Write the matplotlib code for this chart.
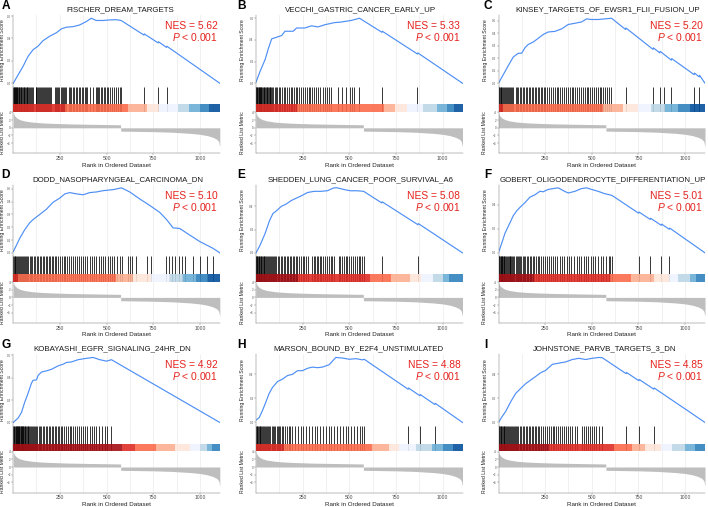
import matplotlib
matplotlib.use("Agg")
import matplotlib.pyplot as plt
from matplotlib.ticker import MultipleLocator, FixedLocator

plt.rcParams['font.family'] = ['Liberation Sans', 'DejaVu Sans']
plt.rcParams['mathtext.fontset'] = 'custom'
plt.rcParams['mathtext.rm'] = 'Liberation Sans'
plt.rcParams['mathtext.it'] = 'Liberation Sans:italic'

# ---------------- data ----------------
N_GENES = 1106

metric_rank = [1, 5, 10, 20, 35, 60, 100, 150, 200, 300, 400, 500, 575, 576, 650, 750, 850, 950,
               1000, 1040, 1070, 1090, 1100, 1106]
metric_value = [3.95, 3.4, 3.0, 2.55, 2.15, 1.8, 1.5, 1.3, 1.18, 1.02, 0.93, 0.85, 0.79, -0.87, -0.92,
                -1.0, -1.15, -1.45, -1.7, -2.05, -2.5, -3.0, -3.6, -5.0]

palette = ['#A50F15', '#DE2D26', '#FB6A4A', '#FCAE91', '#FEE5D9',
           '#EFF3FF', '#BDD7E7', '#6BAED6', '#3182BD', '#08519C']

letters = ['A', 'B', 'C', 'D', 'E', 'F', 'G', 'H', 'I']
titles = ['FISCHER_DREAM_TARGETS', 'VECCHI_GASTRIC_CANCER_EARLY_UP',
          'KINSEY_TARGETS_OF_EWSR1_FLII_FUSION_UP', 'DODD_NASOPHARYNGEAL_CARCINOMA_DN',
          'SHEDDEN_LUNG_CANCER_POOR_SURVIVAL_A6', 'GOBERT_OLIGODENDROCYTE_DIFFERENTIATION_UP',
          'KOBAYASHI_EGFR_SIGNALING_24HR_DN', 'MARSON_BOUND_BY_E2F4_UNSTIMULATED',
          'JOHNSTONE_PARVB_TARGETS_3_DN']
nes_values = ['5.62', '5.33', '5.20', '5.10', '5.08', '5.01', '4.92', '4.88', '4.85']
p_text = '< 0.001'
es_tick_step = [0.2, 0.2, 0.1, 0.1, 0.2, 0.2, 0.2, 0.2, 0.2]

es_A_rank = [1, 27, 53, 80, 107, 133, 160, 196, 231, 258, 285, 320, 356, 391, 418, 445, 480, 516, 552,
             578, 700, 702, 776, 778, 821, 823, 1106]
es_A_value = [0.0, 0.076, 0.15, 0.24, 0.30, 0.33, 0.38, 0.42, 0.45, 0.485, 0.50, 0.505, 0.52, 0.55, 0.58,
              0.56, 0.56, 0.565, 0.567, 0.56, 0.43, 0.44, 0.36, 0.37, 0.32, 0.33, 0.0]
hits_A = [1, 3, 5, 8, 11, 14, 17, 20, 23, 27, 30, 33, 37, 40, 44, 48, 52, 56, 60, 64, 68, 72, 76, 80, 85,
          90, 95, 100, 105, 120, 124, 128, 133, 138, 143, 148, 153, 158, 163, 168, 174, 180, 186, 192,
          198, 204, 226, 231, 236, 242, 248, 254, 260, 266, 272, 278, 284, 300, 306, 312, 318, 326, 334,
          342, 350, 358, 366, 374, 382, 390, 398, 412, 425, 442, 448, 455, 462, 470, 478, 486, 494, 502,
          510, 520, 530, 540, 550, 560, 570, 578, 700, 776, 821]
bins_A = [0, 277, 616, 714, 782, 884, 943, 1000, 1050, 1106]
first_color_A = 1

es_B_rank = [1, 23, 50, 67, 85, 103, 138, 156, 200, 218, 262, 298, 333, 369, 422, 457, 511, 555, 675,
             677, 865, 867, 1106]
es_B_value = [0.01, 0.11, 0.22, 0.32, 0.41, 0.42, 0.44, 0.48, 0.48, 0.51, 0.51, 0.53, 0.52, 0.54, 0.56,
              0.565, 0.58, 0.60, 0.47, 0.48, 0.27, 0.28, 0.0]
hits_B = [1, 3, 6, 9, 12, 15, 18, 21, 24, 27, 30, 34, 38, 42, 46, 50, 54, 58, 62, 66, 70, 74, 78, 83, 88,
          93, 100, 108, 116, 124, 132, 140, 150, 158, 166, 176, 186, 196, 206, 214, 222, 232, 242, 252,
          262, 272, 282, 292, 302, 312, 322, 334, 346, 358, 370, 382, 394, 404, 440, 461, 480, 502, 514,
          528, 550, 675, 865]
bins_B = [0, 218, 688, 746, 808, 892, 972, 1025, 1060, 1106]
first_color_B = 1

es_C_rank = [1, 27, 53, 80, 107, 125, 143, 160, 187, 214, 240, 267, 303, 339, 374, 410, 445, 472, 499,
             535, 570, 606, 681, 683, 828, 830, 864, 866, 926, 928, 1048, 1050, 1075, 1077, 1106]
es_C_value = [0.0, 0.07, 0.14, 0.21, 0.24, 0.24, 0.285, 0.31, 0.33, 0.36, 0.39, 0.41, 0.415, 0.435,
              0.47, 0.48, 0.49, 0.515, 0.51, 0.51, 0.515, 0.52, 0.43, 0.442, 0.271, 0.283, 0.243, 0.255,
              0.185, 0.197, 0.069, 0.081, 0.051, 0.063, 0.0]
hits_C = [1, 4, 8, 12, 16, 20, 25, 30, 35, 40, 45, 50, 56, 62, 68, 74, 80, 92, 100, 108, 116, 124, 132,
          140, 148, 156, 164, 172, 180, 188, 196, 204, 212, 220, 228, 236, 244, 252, 262, 272, 282, 292,
          302, 312, 322, 332, 342, 352, 362, 372, 382, 392, 402, 412, 422, 432, 442, 452, 462, 472, 482,
          492, 502, 512, 522, 532, 542, 552, 562, 572, 582, 592, 602, 681, 828, 864, 887, 926, 1048, 1075]
bins_C = [0, 27, 561, 668, 748, 819, 891, 962, 1024, 1106]
first_color_C = 1

es_D_rank = [1, 18, 36, 62, 89, 107, 143, 178, 214, 250, 277, 303, 339, 375, 410, 446, 482, 535, 580,
             624, 678, 731, 785, 821, 856, 892, 928, 999, 1070, 1106]
es_D_value = [0.01, 0.06, 0.115, 0.18, 0.235, 0.26, 0.30, 0.34, 0.395, 0.427, 0.46, 0.47, 0.46, 0.453,
              0.47, 0.475, 0.485, 0.493, 0.507, 0.475, 0.42, 0.37, 0.315, 0.26, 0.195, 0.19, 0.155,
              0.088, 0.035, 0.0]
hits_D = [1, 4, 8, 12, 16, 20, 25, 30, 35, 40, 46, 52, 58, 64, 70, 76, 82, 88, 95, 102, 110, 118, 126,
          134, 142, 150, 158, 166, 174, 182, 190, 198, 206, 214, 222, 230, 240, 250, 260, 270, 280, 290,
          300, 310, 320, 330, 340, 350, 362, 374, 386, 398, 410, 422, 434, 446, 458, 470, 482, 494, 506,
          518, 530, 542, 556, 570, 580, 615, 627, 638, 660, 714, 740, 820, 835, 850, 868, 885, 903, 920,
          963, 1000, 1038, 1070]
bins_D = [0, 27, 553, 642, 740, 838, 910, 981, 1044, 1106]
first_color_D = 1

es_E_rank = [1, 21, 48, 74, 92, 109, 136, 162, 189, 215, 242, 277, 312, 347, 383, 418, 436, 471, 506,
             541, 577, 674, 676, 868, 870, 1106]
es_E_value = [0.0, 0.06, 0.16, 0.28, 0.34, 0.36, 0.40, 0.42, 0.45, 0.47, 0.49, 0.52, 0.53, 0.53, 0.535,
              0.56, 0.56, 0.546, 0.535, 0.535, 0.53, 0.43, 0.44, 0.242, 0.252, 0.0]
hits_E = [1, 3, 6, 9, 12, 15, 18, 22, 26, 30, 34, 38, 42, 46, 50, 55, 60, 65, 70, 75, 80, 86, 92, 98,
          104, 110, 118, 126, 134, 142, 150, 158, 166, 174, 182, 190, 198, 206, 214, 222, 230, 240, 250,
          260, 270, 277, 303, 310, 318, 326, 334, 342, 350, 360, 370, 380, 390, 400, 410, 418, 443, 452,
          461, 470, 480, 490, 500, 510, 520, 530, 540, 550, 560, 570, 578, 674, 868]
bins_E = [0, 224, 612, 721, 824, 885, 947, 1000, 1035, 1106]
first_color_E = 0

es_F_rank = [1, 18, 36, 62, 80, 98, 116, 143, 169, 196, 223, 240, 267, 294, 321, 347, 374, 410, 445,
             472, 499, 534, 570, 608, 751, 753, 813, 815, 872, 874, 915, 917, 1106]
es_F_value = [0.0, 0.08, 0.165, 0.25, 0.31, 0.35, 0.38, 0.42, 0.465, 0.485, 0.515, 0.51, 0.53, 0.537,
              0.543, 0.52, 0.50, 0.514, 0.537, 0.543, 0.53, 0.514, 0.494, 0.48, 0.331, 0.341, 0.279,
              0.289, 0.23, 0.24, 0.197, 0.207, 0.0]
hits_F = [1, 3, 6, 9, 12, 15, 18, 21, 25, 29, 33, 37, 41, 45, 50, 55, 60, 65, 70, 75, 80, 86, 92, 98,
          104, 110, 117, 124, 131, 138, 145, 152, 160, 168, 176, 184, 192, 200, 210, 220, 230, 240, 250,
          260, 270, 280, 290, 305, 315, 328, 340, 352, 365, 378, 390, 405, 420, 432, 445, 458, 470, 482,
          495, 508, 520, 535, 548, 560, 575, 590, 600, 608, 751, 813, 872, 915]
bins_F = [0, 190, 600, 712, 831, 911, 964, 1026, 1057, 1106]
first_color_F = 0

es_G_rank = [1, 27, 45, 62, 80, 98, 107, 125, 134, 152, 178, 205, 241, 268, 285, 312, 348, 384, 428, 464,
             500, 526, 1106]
es_G_value = [0.0, 0.04, 0.09, 0.18, 0.26, 0.35, 0.376, 0.38, 0.42, 0.45, 0.46, 0.474, 0.505, 0.52,
              0.535, 0.54, 0.56, 0.57, 0.58, 0.56, 0.547, 0.56, 0.0]
hits_G = [1, 4, 7, 10, 13, 16, 19, 22, 25, 28, 31, 34, 37, 40, 43, 46, 49, 52, 55, 58, 62, 66, 70, 74, 78,
          82, 86, 90, 95, 100, 106, 112, 118, 124, 130, 136, 142, 150, 158, 166, 174, 182, 190, 198, 206,
          214, 222, 230, 238, 246, 255, 264, 273, 282, 292, 302, 312, 322, 332, 342, 352, 362, 374, 386,
          398, 410, 422, 434, 446, 460, 475, 490, 505, 526]
bins_G = [0, 580, 651, 767, 865, 946, 999, 1035, 1062, 1106]
first_color_G = 0

es_H_rank = [1, 18, 36, 54, 71, 89, 116, 143, 170, 196, 223, 250, 277, 303, 330, 357, 393, 428, 464, 500,
             535, 571, 580, 815, 817, 878, 880, 958, 960, 1106]
es_H_value = [0.02, 0.04, 0.10, 0.17, 0.24, 0.29, 0.34, 0.36, 0.39, 0.40, 0.43, 0.43, 0.45, 0.46, 0.455,
              0.46, 0.48, 0.54, 0.535, 0.525, 0.53, 0.52, 0.525, 0.276, 0.286, 0.222, 0.232, 0.149,
              0.159, 0.0]
hits_H = [1, 5, 9, 13, 17, 21, 25, 30, 35, 40, 45, 50, 55, 60, 66, 72, 78, 84, 90, 97, 104, 111, 118,
          125, 132, 139, 146, 155, 165, 175, 185, 195, 210, 225, 240, 255, 270, 285, 300, 315, 330, 345,
          360, 375, 390, 405, 420, 435, 450, 465, 480, 495, 510, 525, 540, 555, 570, 580, 815, 878, 958]
bins_H = [0, 152, 624, 714, 767, 856, 945, 1003, 1053, 1106]
first_color_H = 1

es_I_rank = [1, 21, 39, 66, 93, 119, 146, 173, 200, 226, 253, 289, 324, 360, 396, 431, 467, 502, 538,
             556, 684, 686, 752, 754, 832, 834, 1106]
es_I_value = [0.0, 0.05, 0.09, 0.17, 0.24, 0.28, 0.32, 0.35, 0.38, 0.41, 0.43, 0.48, 0.49, 0.50, 0.52,
              0.53, 0.52, 0.53, 0.537, 0.535, 0.403, 0.413, 0.345, 0.355, 0.275, 0.285, 0.0]
hits_I = [1, 4, 8, 12, 16, 20, 24, 28, 32, 36, 40, 45, 50, 55, 60, 66, 72, 78, 84, 90, 96, 102, 108, 116,
          124, 132, 140, 148, 156, 164, 172, 180, 188, 196, 204, 212, 220, 230, 240, 250, 260, 270, 280,
          290, 300, 310, 320, 330, 340, 350, 360, 372, 384, 396, 408, 420, 449, 458, 468, 478, 488, 500,
          512, 525, 540, 556, 684, 752, 832]
bins_I = [0, 270, 618, 716, 787, 868, 930, 1001, 1055, 1106]
first_color_I = 0

es_ranks = [es_A_rank, es_B_rank, es_C_rank, es_D_rank, es_E_rank, es_F_rank, es_G_rank, es_H_rank, es_I_rank]
es_values = [es_A_value, es_B_value, es_C_value, es_D_value, es_E_value, es_F_value, es_G_value,
             es_H_value, es_I_value]
hits_all = [hits_A, hits_B, hits_C, hits_D, hits_E, hits_F, hits_G, hits_H, hits_I]
bins_all = [bins_A, bins_B, bins_C, bins_D, bins_E, bins_F, bins_G, bins_H, bins_I]
first_colors = [first_color_A, first_color_B, first_color_C, first_color_D, first_color_E,
                first_color_F, first_color_G, first_color_H, first_color_I]

# ---------------- layout (pixels) ----------------
W, H = 708, 507
fig = plt.figure(figsize=(W / 100, H / 100), dpi=100)


def box(l, t, w, h):
    return [l / W, 1 - (t + h) / H, w / W, h / H]


col_left = [13.3, 256.0, 498.5]
col_width = 206.5
row_top = [0.0, 169.6, 339.2]
letter_x = [1.5, 237.5, 484.0]
title_cx = [120, 361, 608, 117.5, 361, 603, 112, 358, 605]

ES_COLOR = '#4E8FF5'
RED = '#E5231E'
GRID = '#EBEBEB'
SPINE = '#7A7A7A'
TICKC = '#4D4D4D'


def style_x(ax):
    ax.set_xlim(1, N_GENES)
    ax.xaxis.set_major_locator(FixedLocator([250, 500, 750, 1000]))
    ax.xaxis.set_minor_locator(FixedLocator([125, 375, 625, 875]))
    ax.grid(True, which='both', axis='x', color=GRID, lw=0.5, zorder=0)
    ax.set_axisbelow(True)
    for s in ['top', 'right']:
        ax.spines[s].set_visible(False)
    ax.spines['left'].set_color(SPINE)
    ax.spines['left'].set_linewidth(0.35)
    ax.spines['bottom'].set_color(SPINE)
    ax.spines['bottom'].set_linewidth(0.35)
    ax.tick_params(which='minor', length=0)


for i in range(9):
    r, c = divmod(i, 3)
    L = col_left[c]
    T = row_top[r]

    # ---- running enrichment score ----
    ax1 = fig.add_axes(box(L, T + 15, col_width, 71.5))
    style_x(ax1)
    ax1.spines['bottom'].set_visible(False)
    ax1.plot(es_ranks[i], es_values[i], color=ES_COLOR, lw=0.85, solid_joinstyle='round')
    lo, hi = min(es_values[i]), max(es_values[i])
    pad = 0.05 * (hi - lo)
    ax1.set_ylim(lo - pad, hi + pad)
    ax1.yaxis.set_major_locator(MultipleLocator(es_tick_step[i]))
    ax1.yaxis.set_major_formatter(matplotlib.ticker.FormatStrFormatter('%.1f'))
    ax1.tick_params(axis='x', which='both', length=0, labelbottom=False)
    ax1.tick_params(axis='y', length=1.2, width=0.3, color=SPINE, labelsize=2.2, pad=0.6,
                    labelcolor=TICKC)

    # ---- hits rug + colour bar ----
    ax2 = fig.add_axes(box(L, T + 86.5, col_width, 25.5))
    style_x(ax2)
    ax2.spines['bottom'].set_visible(False)
    ax2.set_ylim(0, 1)
    ax2.vlines(hits_all[i], 0, 1, color='black', lw=0.55, zorder=2)
    edges = bins_all[i]
    cols = palette[first_colors[i]:first_colors[i] + len(edges) - 1]
    ax2.bar(edges[:-1], 0.3, width=[b - a for a, b in zip(edges[:-1], edges[1:])], align='edge',
            color=cols, alpha=0.9, lw=0, zorder=3)
    ax2.tick_params(axis='both', which='both', length=0, labelbottom=False, labelleft=False)

    # ---- ranked list metric ----
    ax3 = fig.add_axes(box(L, T + 112, col_width, 41.3))
    style_x(ax3)
    ax3.fill_between(metric_rank, metric_value, 0, color='#BEBEBE', lw=0, zorder=2)
    ax3.set_ylim(-6.66, 4.13)
    ax3.yaxis.set_major_locator(FixedLocator([4, 2, 0, -2, -4]))
    ax3.tick_params(axis='y', length=1.2, width=0.3, color=SPINE, labelsize=2.2, pad=0.6,
                    labelcolor=TICKC)
    ax3.tick_params(axis='x', which='major', length=1.2, width=0.3, color=SPINE, labelsize=3.6,
                    pad=0.8, labelcolor=TICKC)

    # ---- texts ----
    fig.text(letter_x[c] / W, 1 - (T + 8.6) / H, letters[i], ha='left', va='baseline',
             fontsize=8.6, fontweight='bold', color='black')
    fig.text(title_cx[i] / W, 1 - (T + 11.4) / H, titles[i], ha='center', va='baseline',
             fontsize=5.7, color='#1A1A1A')
    right = L + col_width - 2.2
    fig.text(right / W, 1 - (T + 29.2) / H, 'NES = ' + nes_values[i], ha='right', va='baseline',
             fontsize=7.4, color=RED)
    fig.text(right / W, 1 - (T + 41.2) / H, '$P$ ' + p_text, ha='right', va='baseline',
             fontsize=7.4, color=RED)
    fig.text((L + col_width / 2) / W, 1 - (T + 165.2) / H, 'Rank in Ordered Dataset', ha='center',
             va='center', fontsize=4.5, color='#222222')
    ylab_x = L - (10.5 if c == 0 else 13.5)
    fig.text(ylab_x / W, 1 - (T + 50.5) / H, 'Running Enrichment Score', ha='center', va='center',
             rotation=90, fontsize=3.7, color='#222222')
    fig.text(ylab_x / W, 1 - (T + 132.6) / H, 'Ranked List Metric', ha='center', va='center',
             rotation=90, fontsize=3.7, color='#222222')

fig.savefig('out.png', dpi=100)
